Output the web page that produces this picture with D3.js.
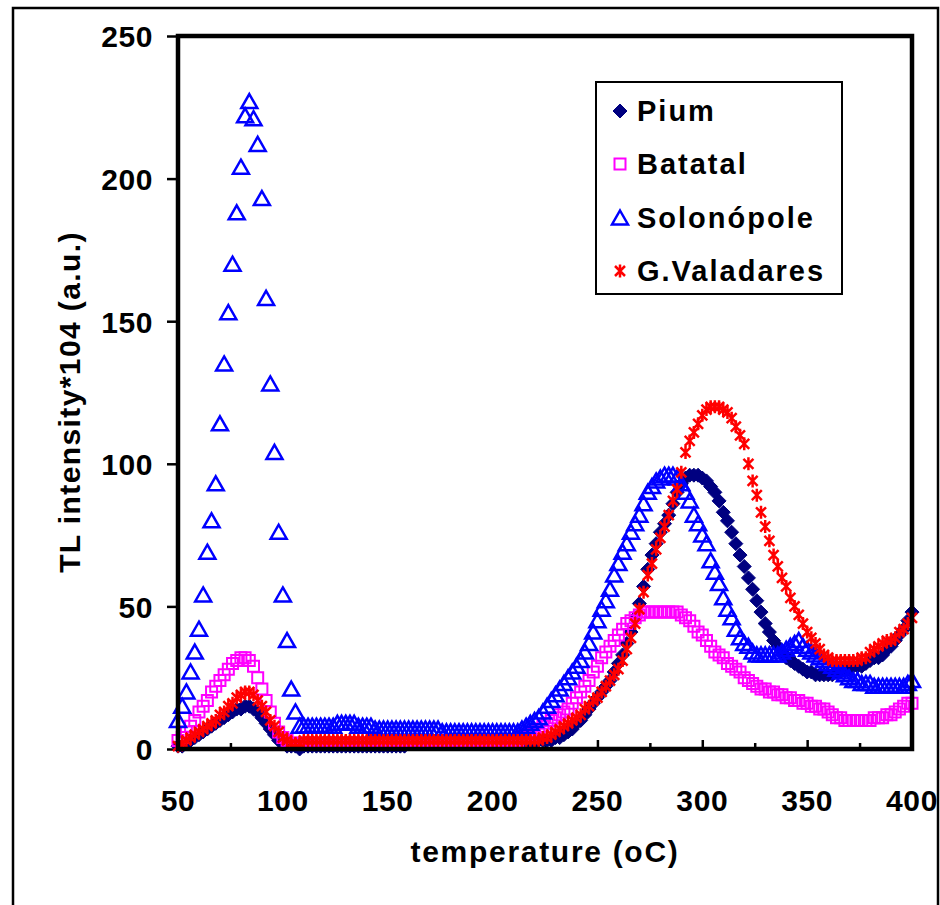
<!DOCTYPE html>
<html lang="en">
<head>
<meta charset="UTF-8">
<title>TL glow curves</title>
<script src="https://d3js.org/d3.v7.min.js"></script>
<style>
    body { margin: 0; background: #fff; }
    text { font-family: "Liberation Sans", Arial, sans-serif; font-weight: bold; fill: #000; }
</style>
</head>
<body>
<script>
    // readings every 2 oC, from 50 to 400 oC
    var temperature = d3.range(50, 401, 2);

    var pium = [
        1, 1, 2, 3, 4, 5, 6, 7, 8, 9, 10, 11, 12, 13, 14, 14, 15, 15, 14, 13, 11, 9, 7, 5, 3, 2, 1, 1, 1, 0,
        1, 1, 1, 1, 1, 1, 1, 1, 1, 1, 1, 1, 1, 1, 1, 1, 1, 1, 1, 1, 1, 1, 1, 1, 1,
        2, 2, 2, 2, 2, 2, 2, 2, 2, 2, 2, 2, 2, 2, 2, 2, 2, 2, 2, 2, 2, 2, 2, 2, 2,
        2, 2, 2, 2, 2, 2, 3, 3, 3, 3, 4, 4, 5, 6, 7, 9, 10, 12, 14, 16,
        18, 20, 22, 24, 27, 30, 33, 37, 41, 46, 51, 57, 63, 68, 72, 76, 79, 82, 86, 90,
        93, 95, 96, 96, 96, 95, 94, 92, 90, 87, 83, 80, 76, 72, 68, 64, 60, 56, 52, 48,
        44, 41, 38, 36, 34, 32, 31, 30, 29, 28, 27, 27, 26, 26, 26, 26, 26, 27, 27, 28,
        28, 29, 29, 29, 30, 31, 32, 32, 33, 35, 36, 38, 40, 42, 45, 48
    ];

    var batatal = [
        3, 4, 6, 8, 10, 13, 15, 17, 20, 22, 24, 26, 28, 30, 31, 32, 32, 31, 29, 25, 21, 17, 13, 9, 6, 4, 3, 2, 2, 2,
        2, 2, 2, 2, 2, 2, 2, 2, 2, 2, 2, 2, 2, 2, 2, 2, 2, 2, 2, 2,
        3, 3, 3, 3, 3, 3, 3, 3, 3, 3, 3, 3, 3, 3, 3, 3, 3, 3, 3, 3, 3, 3, 3, 3, 3, 3, 3, 3, 3, 3,
        3, 3, 4, 4, 5, 6, 7, 8, 9, 10, 11, 12, 13, 14, 16, 18, 20, 22, 24, 27,
        29, 32, 34, 36, 38, 40, 42, 44, 45, 46, 47, 48, 48, 48, 48, 48, 48, 48, 48, 48,
        47, 46, 45, 43, 41, 40, 38, 36, 34, 33, 32, 30, 29, 28, 27, 25, 24, 23, 22, 21,
        21, 20, 20, 19, 19, 18, 18, 17, 17, 16, 16, 15, 15, 14, 14, 13, 12, 11, 11, 10,
        10, 10, 10, 10, 10, 10, 11, 11, 11, 12, 12, 13, 14, 15, 16, 16
    ];

    var solonopole = [
        10, 15, 20, 27, 34, 42, 54, 69, 80, 93, 114, 135, 153, 170, 188, 204, 222, 227, 221, 212,
        193, 158, 128, 104, 76, 54, 38, 21, 13, 8,
        8, 8, 8, 8, 8, 8, 8, 8, 9, 9, 9, 9, 9, 8, 8, 8, 8, 7, 7, 7,
        7, 7, 7, 7, 7, 7, 7, 7, 7, 7, 7, 7, 7, 6, 6,
        6, 6, 6, 6, 6, 6, 6, 6, 6, 6, 6, 6, 6, 6, 6,
        6, 6, 7, 8, 9, 10, 11, 13, 15, 17, 19, 21, 23, 25, 27, 29, 31, 34, 37, 41,
        45, 49, 52, 56, 61, 65, 69, 72, 76, 79, 82, 86, 90, 92, 94, 95, 96, 96, 96, 95,
        93, 90, 87, 82, 79, 75, 72, 66, 62, 58, 53, 49, 46, 42, 39, 37, 36, 34, 33, 33,
        33, 33, 33, 33, 34, 35, 36, 37, 38, 36, 35, 34, 33, 32, 31, 30, 29, 28, 27, 26,
        25, 24, 24, 23, 23, 23, 22, 22, 22, 22, 22, 22, 22, 22, 23, 24
    ];

    var valadares = [
        1, 2, 3, 4, 5, 6, 7, 8, 9, 10, 12, 13, 15, 16, 18, 19, 20, 20, 19, 17, 15, 13, 10, 8, 6, 4, 3, 2, 2, 2,
        3, 3, 3, 3, 3, 3, 3, 3, 3, 3, 3, 3, 3, 3, 3, 3, 3, 3, 3, 3, 3, 3, 3, 3, 3,
        3, 3, 3, 3, 3, 3, 3, 3, 3, 3, 3, 3, 3, 3, 3, 3, 3, 3, 3, 3, 3, 3, 3, 3, 3,
        3, 3, 3, 3, 3, 3, 3, 4, 4, 5, 6, 7, 8, 9, 10, 11, 12, 14, 15, 17,
        18, 20, 22, 24, 26, 28, 31, 35, 39, 44, 49, 55, 61, 65, 70, 74, 78, 82, 87, 91,
        97, 104, 108, 111, 114, 117, 119, 120, 120, 120, 119, 118, 116, 113, 110, 107, 100, 94, 89, 83,
        78, 73, 68, 64, 60, 57, 53, 50, 47, 44, 41, 39, 37, 35, 33, 32, 31, 31, 31, 31,
        31, 31, 31, 32, 32, 34, 35, 36, 37, 38, 38, 39, 41, 42, 44, 46
    ];

    var seriesNames = ["Pium", "Batatal", "Solonópole", "G.Valadares"];
    var seriesValues = [pium, batatal, solonopole, valadares];

    var xTicks = [50, 100, 150, 200, 250, 300, 350, 400];
    var xMinorTicks = [75, 125, 175, 225, 275, 325, 375];
    var yTicks = [0, 50, 100, 150, 200, 250];

    // marker styles, in series order
    var markers = [
        {path: "M0,-7L7,0L0,7L-7,0Z", fill: "#000080", stroke: "#000080", width: 1},
        {path: "M-5.5,-5.5H5.5V5.5H-5.5Z", fill: "none", stroke: "#ff00ff", width: 2},
        {path: "M0,-7.5L8,6.5H-8Z", fill: "none", stroke: "#0000ff", width: 2.5},
        {path: "M-5,-5L5,5M-5,5L5,-5M0,-6.5V6.5", fill: "none", stroke: "#ff0000", width: 2.5}
    ];

    var width = 940, height = 905;
    var svg = d3.select("body").append("svg")
        .attr("width", width)
        .attr("height", height);

    // outer chart frame
    svg.append("rect")
        .attr("x", 13).attr("y", 8)
        .attr("width", 925).attr("height", 1000)
        .attr("fill", "none").attr("stroke", "#000").attr("stroke-width", 2.5);

    var x = d3.scaleLinear().domain([50, 400]).range([178, 912]);
    var y = d3.scaleLinear().domain([0, 250]).range([749, 36]);

    // y axis ticks (outside) and labels
    var yAxis = svg.append("g").attr("transform", "translate(178,0)")
        .call(d3.axisLeft(y).tickValues(yTicks).tickSize(11).tickPadding(14));
    yAxis.select(".domain").remove();
    yAxis.selectAll("line").attr("stroke", "#000").attr("stroke-width", 2.5);
    yAxis.selectAll("text")
        .attr("font-size", 30).attr("font-family", null).attr("fill", "#000")
        .attr("dy", "0.36em").style("letter-spacing", "0.6px");

    // x axis ticks (inside)
    var xAxis = svg.append("g").attr("transform", "translate(0,749)")
        .call(d3.axisTop(x).tickValues(xTicks).tickSize(9).tickFormat(""));
    xAxis.select(".domain").remove();
    xAxis.selectAll("line").attr("stroke", "#000").attr("stroke-width", 2.5);
    var xMinor = svg.append("g").attr("transform", "translate(0,749)")
        .call(d3.axisTop(x).tickValues(xMinorTicks).tickSize(6).tickFormat(""));
    xMinor.select(".domain").remove();
    xMinor.selectAll("line").attr("stroke", "#000").attr("stroke-width", 2.5);

    svg.append("g").selectAll("text")
        .data(xTicks)
        .enter().append("text")
        .attr("x", function(d) { return x(d); })
        .attr("y", 811)
        .attr("text-anchor", "middle")
        .attr("font-size", 30)
        .style("letter-spacing", "0.6px")
        .text(function(d) { return d; });

    // data markers
    var plot = svg.append("g");
    seriesValues.forEach(function(values, i) {
        var m = markers[i];
        plot.append("g").selectAll("path")
            .data(values)
            .enter().append("path")
            .attr("d", m.path)
            .attr("transform", function(d, j) { return "translate(" + x(temperature[j]) + "," + y(d) + ")"; })
            .attr("fill", m.fill)
            .attr("stroke", m.stroke)
            .attr("stroke-width", m.width);
    });

    // plot area box
    svg.append("rect")
        .attr("x", 178).attr("y", 36)
        .attr("width", 912 - 178).attr("height", 749 - 36)
        .attr("fill", "none").attr("stroke", "#000").attr("stroke-width", 4.5);

    // axis titles
    svg.append("text")
        .attr("x", 545).attr("y", 862)
        .attr("text-anchor", "middle")
        .attr("font-size", 30)
        .style("letter-spacing", "1.7px")
        .text("temperature (oC)");

    svg.append("text")
        .attr("transform", "translate(80,402) rotate(-90)")
        .attr("text-anchor", "middle")
        .attr("font-size", 30)
        .style("letter-spacing", "1.4px")
        .text("TL intensity*104 (a.u.)");

    // legend
    var legend = svg.append("g");
    legend.append("rect")
        .attr("x", 596).attr("y", 82)
        .attr("width", 246).attr("height", 212)
        .attr("fill", "#fff").attr("stroke", "#000").attr("stroke-width", 2);

    var rowY = [111, 164, 218, 271];
    seriesNames.forEach(function(name, i) {
        var m = markers[i];
        legend.append("path")
            .attr("d", m.path)
            .attr("transform", "translate(620," + rowY[i] + ")")
            .attr("fill", m.fill)
            .attr("stroke", m.stroke)
            .attr("stroke-width", m.width);
        legend.append("text")
            .attr("x", 637).attr("y", rowY[i] + 10)
            .attr("font-size", 29)
            .style("letter-spacing", "2px")
            .text(name);
    });
</script>
</body>
</html>
